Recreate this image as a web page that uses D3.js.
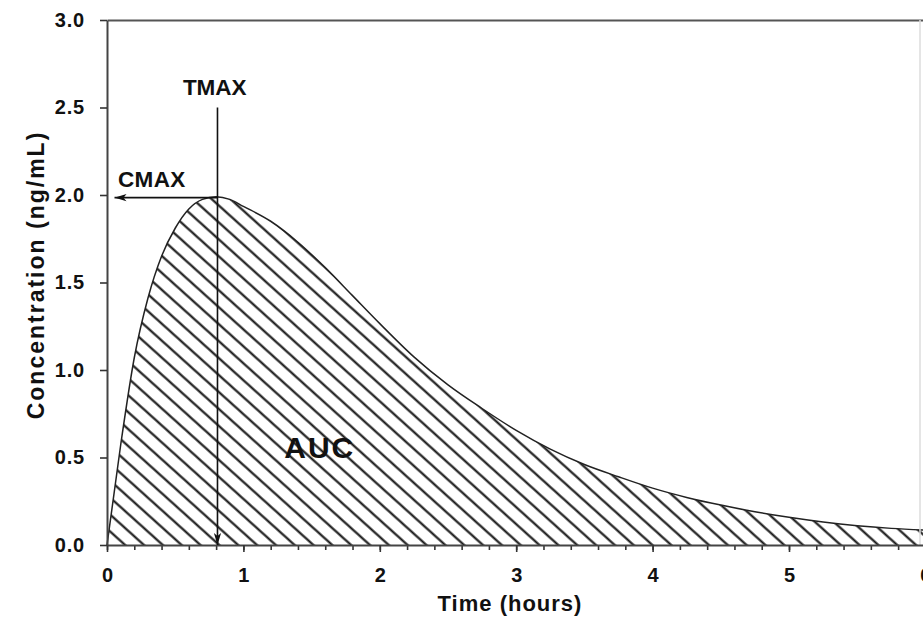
<!DOCTYPE html>
<html lang="en">
    <head>
        <meta charset="utf-8">
        <script src="https://d3js.org/d3.v7.min.js"></script>
        <title>Concentration vs time - AUC</title>
        <style>
            body { margin: 0; background: #fff; }
            text { font-family: "Liberation Sans", Arial, sans-serif; font-weight: bold; fill: #111; }
        </style>
    </head>

    <body>
        <div id="plot-div"></div>
        <script>
            // values
            const times = [0, 0.1, 0.2, 0.3, 0.4, 0.5, 0.6, 0.7, 0.8, 0.9, 1.0, 1.2, 1.4, 1.6, 1.8, 2.0,
                           2.25, 2.5, 2.75, 3.0, 3.25, 3.5, 3.75, 4.0, 4.25, 4.5, 4.75, 5.0, 5.25, 5.5, 5.75, 6.0]
            const concentrations = [0, 0.57, 1.07, 1.41, 1.65, 1.81, 1.92, 1.975, 1.99, 1.975, 1.935, 1.85, 1.73, 1.585, 1.425, 1.265,
                                    1.075, 0.915, 0.78, 0.655, 0.548, 0.46, 0.39, 0.325, 0.272, 0.228, 0.19, 0.158, 0.131, 0.11, 0.095, 0.085]
            const xTicks = [0, 1, 2, 3, 4, 5, 6]
            const xMinorTicks = d3.range(0, 6.01, 0.2)
            const yTicks = [0, 0.5, 1.0, 1.5, 2.0, 2.5, 3.0]
            const tmax = 0.81
            const cmax = 1.985
            const tmaxArrowTop = 2.5
            const cmaxArrowEnd = 0.055

            const width = 923
            const height = 618

            let margin = {
                top: 20,
                left: 107,
                bottom: 73
            }

            let render = (data) => {
                let xScale = d3.scaleLinear()
                .domain([0, 6])
                .range([margin.left, margin.left + 6 * 136.4])

                let yScale = d3.scaleLinear()
                .domain([0, 3])
                .range([height - margin.bottom, margin.top])

                var svg = d3.select("#plot-div")
                .append("svg")
                .attr("width", width)
                .attr("height", height)

                let defs = svg.append("defs")

                // diagonal hatch for the AUC
                let hatch = defs.append("pattern")
                .attr("id", "hatch")
                .attr("patternUnits", "userSpaceOnUse")
                .attr("width", 12.6)
                .attr("height", 12.6)
                .attr("patternTransform", "rotate(-48)")
                hatch.append("line")
                .attr("x1", 6.3).attr("y1", -1)
                .attr("x2", 6.3).attr("y2", 13.6)
                .attr("stroke", "#111")
                .attr("stroke-width", 2.1)

                defs.append("marker")
                .attr("id", "arrow")
                .attr("viewBox", "0 -5 12 10")
                .attr("refX", 12)
                .attr("refY", 0)
                .attr("markerUnits", "userSpaceOnUse")
                .attr("markerWidth", 12)
                .attr("markerHeight", 10)
                .attr("orient", "auto")
                .append("path")
                .attr("d", "M0,-3.6L12,0L0,3.6L3,0Z")
                .attr("fill", "#111")

                // hatched area under the curve
                svg.append("path")
                .datum(data)
                .attr("fill", "url(#hatch)")
                .attr("d", d3.area()
                    .x(d => xScale(d.t))
                    .y0(yScale(0))
                    .y1(d => yScale(d.c))
                    .curve(d3.curveMonotoneX))

                svg.append("path")
                .datum(data)
                .attr("fill", "none")
                .attr("stroke", "#222")
                .attr("stroke-width", 1.5)
                .attr("d", d3.line()
                    .x(d => xScale(d.t))
                    .y(d => yScale(d.c))
                    .curve(d3.curveMonotoneX))

                // top frame line
                svg.append("g")
                .attr("transform", `translate(0,${yScale(3)})`)
                .call(d3.axisTop(xScale).tickValues([]).tickSizeOuter(0))
                .call(g => g.select(".domain").attr("stroke", "#555").attr("stroke-width", 2))

                // faint right edge of the frame
                svg.append("line")
                .attr("x1", width - 3).attr("x2", width - 3)
                .attr("y1", yScale(3)).attr("y2", yScale(0))
                .attr("stroke", "#ddd")
                .attr("stroke-width", 1.5)

                // x axis, minor ticks then major ticks
                svg.append("g")
                .attr("transform", `translate(0,${yScale(0)})`)
                .call(d3.axisBottom(xScale).tickValues(xMinorTicks).tickSize(5).tickFormat("").tickSizeOuter(0))
                .call(g => g.select(".domain").remove())
                .call(g => g.selectAll(".tick line").attr("stroke", "#333").attr("stroke-width", 1.6))

                svg.append("g")
                .attr("transform", `translate(0,${yScale(0)})`)
                .call(d3.axisBottom(xScale).tickValues(xTicks).tickSize(7).tickPadding(16).tickSizeOuter(0).tickFormat(d3.format("d")))
                .call(g => g.select(".domain").attr("stroke", "#444").attr("stroke-width", 2))
                .call(g => g.selectAll(".tick line").attr("stroke", "#333").attr("stroke-width", 1.6))
                .call(g => g.selectAll(".tick text").attr("font-size", 20).attr("font-family", null).attr("fill", "#111"))

                // y axis
                svg.append("g")
                .attr("transform", `translate(${margin.left},0)`)
                .call(d3.axisLeft(yScale).tickValues(yTicks).tickSize(7).tickPadding(15).tickSizeOuter(0).tickFormat(d3.format(".1f")))
                .call(g => g.select(".domain").attr("stroke", "#444").attr("stroke-width", 2))
                .call(g => g.selectAll(".tick line").attr("stroke", "#333").attr("stroke-width", 1.6))
                .call(g => g.selectAll(".tick text").attr("font-size", 20).attr("font-family", null).attr("fill", "#111").attr("letter-spacing", 0.8))

                // TMAX and CMAX arrows
                svg.append("line")
                .attr("x1", xScale(tmax)).attr("y1", yScale(tmaxArrowTop))
                .attr("x2", xScale(tmax)).attr("y2", yScale(0))
                .attr("stroke", "#111")
                .attr("stroke-width", 1.6)
                .attr("marker-end", "url(#arrow)")

                svg.append("line")
                .attr("x1", xScale(tmax)).attr("y1", yScale(cmax))
                .attr("x2", xScale(cmaxArrowEnd)).attr("y2", yScale(cmax))
                .attr("stroke", "#111")
                .attr("stroke-width", 1.6)
                .attr("marker-end", "url(#arrow)")

                svg.append("text")
                .attr("x", xScale(0.79))
                .attr("y", yScale(2.57))
                .attr("text-anchor", "middle")
                .attr("font-size", 22.5)
                .text("TMAX")

                svg.append("text")
                .attr("x", xScale(0.08))
                .attr("y", yScale(2.046))
                .attr("font-size", 22.5)
                .attr("letter-spacing", 0.4)
                .text("CMAX")

                svg.append("text")
                .attr("x", xScale(1.56))
                .attr("y", yScale(0.5))
                .attr("text-anchor", "middle")
                .attr("font-size", 30)
                .attr("letter-spacing", 2)
                .text("AUC")

                // axis titles
                svg.append("text")
                .attr("x", 510)
                .attr("y", 611)
                .attr("text-anchor", "middle")
                .attr("font-size", 22)
                .attr("letter-spacing", 1)
                .text("Time (hours)")

                svg.append("text")
                .attr("transform", "translate(44,275) rotate(-90)")
                .attr("text-anchor", "middle")
                .attr("font-size", 23)
                .attr("letter-spacing", 2)
                .text("Concentration (ng/mL)")
            }

            let data = times.map((t, i) => ({ t: t, c: concentrations[i] }))
            render(data)
        </script>
    </body>
</html>
